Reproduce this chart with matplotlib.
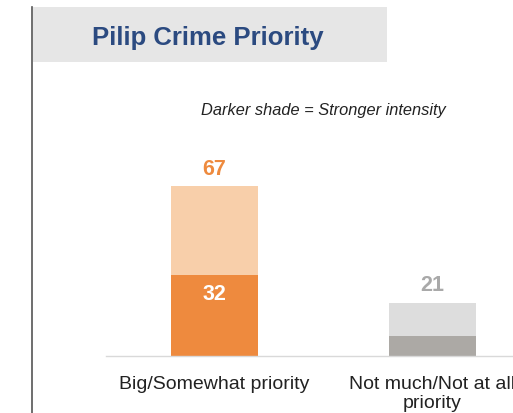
"""
Pilip crime priority - stacked bars with intensity shading
"""

import matplotlib.pyplot as plt
from matplotlib.patches import Rectangle
from matplotlib.lines import Line2D

plt.rcParams['font.family'] = ['Liberation Sans', 'DejaVu Sans']

categories = ['Big/Somewhat priority', 'Not much/Not at all\npriority']
totals = [67, 21]
strong = [32, 8]
dark_colors = ['#ee8a3e', '#aca9a5']
light_colors = ['#f8cfaa', '#dddddd']
total_label_colors = ['#ee8a3e', '#a9a9a9']

W, H = 513, 414
fig = plt.figure(figsize=(W / 100, H / 100), dpi=100)

# header box + left rule
fig.patches.append(Rectangle((33 / W, 1 - 63 / H), (387 - 33) / W, 55 / H,
                             transform=fig.transFigure, facecolor='#e6e6e6',
                             edgecolor='none', zorder=0))
fig.lines.append(Line2D([32 / W, 32 / W], [0, 1 - 8 / H], transform=fig.transFigure,
                        color='#555555', linewidth=1.2))
fig.text(92 / W, 1 - 38 / H, 'Pilip Crime Priority', fontsize=18.5, fontweight='bold',
         color='#2b4a80', va='center', ha='left')
fig.text(323 / W, 1 - 110 / H, 'Darker shade = Stronger intensity', fontsize=11.8,
         style='italic', color='#222222', ha='center', va='center')

ax = fig.add_axes([106 / W, (H - 357) / H, (W - 106) / W, (357 - 140) / H])
x = list(range(len(categories)))
light = [t - s for t, s in zip(totals, strong)]
ax.bar(x, strong, width=0.4, color=dark_colors)
ax.bar(x, light, width=0.4, bottom=strong, color=light_colors)

ax.text(0, strong[0] - 7.5, str(strong[0]), ha='center', va='center', fontsize=15.5,
        fontweight='bold', color='white')
for i, t in enumerate(totals):
    ax.text(i, t + 7, str(t), ha='center', va='center', fontsize=15.5,
            fontweight='bold', color=total_label_colors[i])

ax.set_xlim(-0.498, 1.369)
ax.set_ylim(0, 85.5)
ax.set_xticks(x)
ax.set_xticklabels(categories, fontsize=14, color='#222222', va='top',
                   linespacing=1.1)
ax.tick_params(axis='x', length=0, pad=14)
ax.set_yticks([])
for s in ['top', 'right', 'left']:
    ax.spines[s].set_visible(False)
ax.spines['bottom'].set_color('#d9d9d9')
ax.spines['bottom'].set_linewidth(1)

plt.savefig('out.png', dpi=100)
